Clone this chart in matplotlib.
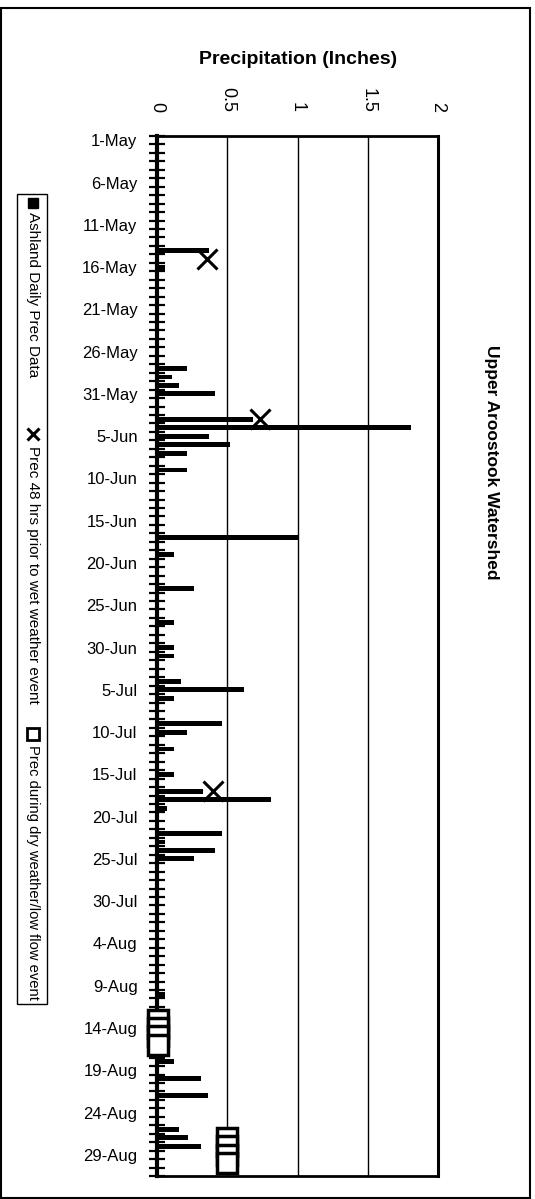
import matplotlib
matplotlib.use("Agg")
import matplotlib.pyplot as plt
import numpy as np
import datetime as dt

plt.rcParams['font.family'] = ['Liberation Sans', 'DejaVu Sans']

# ---------------- data ----------------
start = dt.date(2000, 5, 1)
n_days = 123  # 1-May .. 31-Aug
dates = [start + dt.timedelta(days=k) for k in range(n_days)]
date_labels = [f"{d.day}-{d.strftime('%b')}" for d in dates]

# Ashland daily precipitation (inches), day index -> value
bar_days = [13, 15, 27, 28, 29, 30, 33, 34, 35, 36, 37, 39, 47, 49, 53, 57, 60, 61,
            64, 65, 66, 69, 70, 72, 75, 77, 78, 79, 82, 83, 84, 85, 101, 109, 111,
            113, 117, 118, 119]
bar_vals = [0.37, 0.06, 0.21, 0.11, 0.16, 0.41, 0.68, 1.81, 0.37, 0.52, 0.21, 0.21,
            1.00, 0.12, 0.26, 0.12, 0.12, 0.12, 0.17, 0.62, 0.12, 0.46, 0.21, 0.12,
            0.12, 0.33, 0.81, 0.07, 0.46, 0.06, 0.41, 0.26, 0.06, 0.12, 0.31, 0.36,
            0.16, 0.22, 0.31]

# Prec 48 hrs prior to wet weather event
wet_days = [14, 33, 77]
wet_vals = [0.355, 0.73, 0.40]

# Prec during dry weather / low flow event
dry_days = [104, 105, 106, 107, 118, 119, 120, 121]
dry_vals = [0.01, 0.01, 0.01, 0.01, 0.50, 0.50, 0.50, 0.50]

x_ticks = [0, 0.5, 1, 1.5, 2]
x_tick_labels = ["0", "0.5", "1", "1.5", "2"]

W, H = 535, 1199
fig = plt.figure(figsize=(W / 100, H / 100), dpi=100)

def fx(x):
    return x / W

def fy(y):
    return 1 - y / H

ax = fig.add_axes([fx(157), fy(1176), fx(438) - fx(157), fy(136) - fy(1176)])

ax.barh(bar_days, bar_vals, height=0.58, color='black', zorder=3)
ax.plot(wet_vals, wet_days, linestyle='none', marker='x', ms=14, mew=2.2,
        color='black', zorder=5)
ax.plot(dry_vals, dry_days, linestyle='none', marker='s', ms=14, mew=2.5,
        markerfacecolor='white', markeredgecolor='black', zorder=6, clip_on=False)

ax.set_xlim(0, 2)
ax.set_ylim(n_days - 0.5, -0.5)

# x axis on top, rotated labels
ax.xaxis.tick_top()
ax.set_xticks(x_ticks)
ax.set_xticklabels(x_tick_labels, rotation=-90, fontsize=13)
ax.tick_params(axis='x', length=0, pad=17)
for gx in [0.5, 1.0, 1.5]:
    ax.axvline(gx, color='black', lw=1.0, zorder=1)

# y axis: date labels every 5 days, ticks at each day boundary
ax.set_yticks(list(range(0, n_days, 5)))
ax.set_yticklabels([date_labels[k] for k in range(0, n_days, 5)], fontsize=12)
ax.set_yticks(np.arange(-0.5, n_days, 1), minor=True)
ax.tick_params(axis='y', which='major', length=0, pad=14)
ax.tick_params(axis='y', which='minor', direction='inout', length=11, width=1.6)

for side, lw in [('left', 3.0), ('right', 2.2), ('top', 2.0), ('bottom', 2.0)]:
    ax.spines[side].set_linewidth(lw)
    ax.spines[side].set_color('black')

# axis title (horizontal, above)
fig.text(fx(298), fy(59), "Precipitation (Inches)", ha='center', va='center',
         fontsize=14, fontweight='bold')

# chart title on right, rotated
fig.text(fx(492), fy(462), "Upper Aroostook Watershed", ha='center', va='center',
         rotation=-90, fontsize=12.5, fontweight='bold')

# page border
border = plt.Rectangle((fx(1.5), fy(1198)), fx(530) - fx(1.5), fy(8) - fy(1198),
                       transform=fig.transFigure, fill=False, lw=1.5,
                       edgecolor='black')
fig.add_artist(border)

# legend box (rotated)
lx0, lx1 = 17, 47
ly0, ly1 = 194, 1004
leg = plt.Rectangle((fx(lx0), fy(ly1)), fx(lx1) - fx(lx0), fy(ly0) - fy(ly1),
                    transform=fig.transFigure, fill=False, lw=1.0,
                    edgecolor='black')
fig.add_artist(leg)
lxc = (lx0 + lx1) / 2 + 1

entries = [
    (203, 212, "Ashland Daily Prec Data", 11,
     dict(marker='s', ms=7, mfc='black', mec='black', mew=1)),
    (434, 446, "Prec 48 hrs prior to wet weather event", 11,
     dict(marker='x', ms=9, mfc='black', mec='black', mew=2.2)),
    (734, 745, "Prec during dry weather/low flow event", 10.6,
     dict(marker='s', ms=8, mfc='white', mec='black', mew=2)),
]
for my, ty, txt, fs, mk in entries:
    fig.add_artist(plt.Line2D([fx(lxc)], [fy(my)], transform=fig.transFigure,
                              linestyle='none', **mk))
    fig.text(fx(lxc), fy(ty), txt, rotation=-90, ha='center', va='top', fontsize=fs)

fig.savefig("out.png", dpi=100)
